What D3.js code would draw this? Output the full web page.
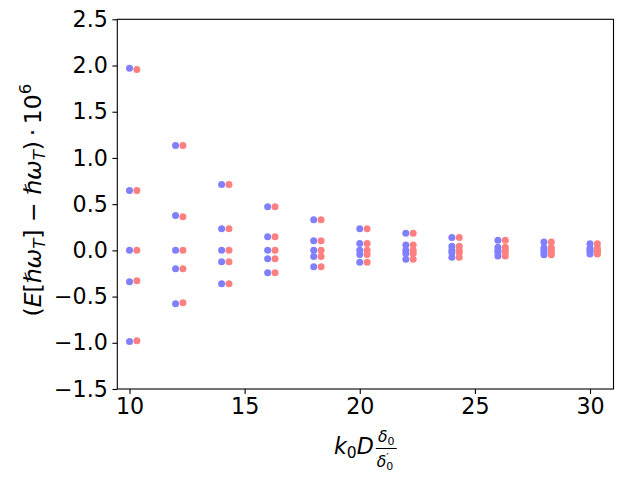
<!DOCTYPE html>
<html>
<head>
<meta charset="utf-8">
<script src="https://cdn.jsdelivr.net/npm/d3@7"></script>
<style>
  body { margin: 0; background: #fff; }
  text { font-family: "DejaVu Sans", sans-serif; fill: #000; }
</style>
</head>
<body>
<div id="chart"></div>
<script>
// groups on the x axis
var blueK = [10, 12, 14, 16, 18, 20, 22, 24, 26, 28, 30];
var redK = [10.32, 12.32, 14.32, 16.32, 18.32, 20.32, 22.32, 24.32, 26.32, 28.32, 30.32];

// five values per group (x 10^-6)
var blueValues = [
  [1.970, 0.647, 0, -0.339, -0.986],
  [1.134, 0.376, 0, -0.198, -0.578],
  [0.712, 0.235, 0, -0.123, -0.361],
  [0.473, 0.148, 0, -0.090, -0.242],
  [0.332, 0.105, 0, -0.066, -0.177],
  [0.235, 0.073, 0, -0.045, -0.128],
  [0.186, 0.058, 0, -0.035, -0.095],
  [0.140, 0.045, 0, -0.027, -0.075],
  [0.110, 0.035, 0, -0.021, -0.060],
  [0.090, 0.028, 0, -0.017, -0.048],
  [0.072, 0.023, 0, -0.014, -0.040]
];
var redValues = [
  [1.958, 0.647, 0, -0.328, -0.979],
  [1.134, 0.365, 0, -0.198, -0.567],
  [0.712, 0.235, 0, -0.123, -0.361],
  [0.473, 0.148, 0, -0.090, -0.242],
  [0.332, 0.105, 0, -0.066, -0.177],
  [0.235, 0.073, 0, -0.045, -0.128],
  [0.186, 0.058, 0, -0.035, -0.095],
  [0.140, 0.045, 0, -0.027, -0.075],
  [0.110, 0.035, 0, -0.021, -0.060],
  [0.090, 0.028, 0, -0.017, -0.048],
  [0.072, 0.023, 0, -0.014, -0.040]
];

var xTicks = [10, 15, 20, 25, 30];
var yTicks = [-1.5, -1.0, -0.5, 0.0, 0.5, 1.0, 1.5, 2.0, 2.5];

var W = 626, H = 485;
var margin = {top: 19.3, right: 12.5, bottom: 96, left: 117.3},
  width = W - margin.left - margin.right,
  height = H - margin.top - margin.bottom;

var svg = d3.select("#chart")
  .append("svg")
  .attr("width", W)
  .attr("height", H);

var g = svg.append("g")
  .attr("transform", "translate(" + margin.left + "," + margin.top + ")");

var x = d3.scaleLinear().domain([9.47, 31.02]).range([0, width]);
var y = d3.scaleLinear().domain([-1.5, 2.5]).range([height, 0]);

// flatten the groups into points
function toPoints(ks, vals) {
  var pts = [];
  ks.forEach(function(k, i) {
    vals[i].forEach(function(v) { pts.push({k: k, v: v}); });
  });
  return pts;
}

/****** POINTS ******/
g.append("g")
  .selectAll("circle")
  .data(toPoints(blueK, blueValues))
  .enter()
  .append("circle")
    .attr("cx", function(d) { return x(d.k); })
    .attr("cy", function(d) { return y(d.v); })
    .attr("r", 3.5)
    .style("fill", "#8080ff");

g.append("g")
  .selectAll("circle")
  .data(toPoints(redK, redValues))
  .enter()
  .append("circle")
    .attr("cx", function(d) { return x(d.k); })
    .attr("cy", function(d) { return y(d.v); })
    .attr("r", 3.5)
    .style("fill", "#ff8080");

/****** AXES ******/
var xAxis = g.append("g")
  .attr("transform", "translate(0," + height + ")")
  .call(d3.axisBottom(x).tickValues(xTicks).tickSize(4.9).tickPadding(4.5).tickFormat(d3.format("d")));

var yAxis = g.append("g")
  .call(d3.axisLeft(y).tickValues(yTicks).tickSize(4.9).tickPadding(4.5)
    .tickFormat(function(d) { return d3.format(".1f")(d).replace("-", "\u2212"); }));

[xAxis, yAxis].forEach(function(a) {
  a.select(".domain").remove();
  a.selectAll("line").style("stroke", "#000").style("stroke-width", 1.1);
  a.selectAll("text").style("font-size", "22.2px").style("font-family", "'DejaVu Sans'");
});

// frame
g.append("rect")
  .attr("width", width)
  .attr("height", height)
  .style("fill", "none")
  .style("stroke", "#000")
  .style("stroke-width", 1.1);

/****** Y LABEL ******/
var yl = svg.append("text")
  .attr("transform", "translate(41," + (margin.top + height / 2 - 4) + ") rotate(-90)")
  .attr("text-anchor", "middle")
  .style("font-size", "23.5px");
yl.append("tspan").text("(");
yl.append("tspan").style("font-style", "italic").text("E");
yl.append("tspan").text("[");
yl.append("tspan").style("font-style", "italic").text("\u210Fω");
yl.append("tspan").style("font-style", "italic").style("font-size", "16.5px").attr("dy", 4).text("T");
yl.append("tspan").attr("dy", -4).text("] \u2212 ");
yl.append("tspan").style("font-style", "italic").text("\u210Fω");
yl.append("tspan").style("font-style", "italic").style("font-size", "16.5px").attr("dy", 4).text("T");
yl.append("tspan").attr("dy", -4).text(")\u2009·\u200910");
yl.append("tspan").style("font-size", "16.5px").attr("dy", -10).text("6");

/****** X LABEL ******/
var xl = svg.append("g");
var base = 453.5;
var main = xl.append("text")
  .attr("y", base)
  .style("font-size", "22.2px");
main.append("tspan").style("font-style", "italic").text("k");
main.append("tspan").style("font-size", "15.5px").attr("dy", 4).text("0");
main.append("tspan").style("font-style", "italic").attr("dy", -4).text("D");
var mainW = main.node().getComputedTextLength();

var fracX = mainW + 2;
// numerator: delta_0
var num = xl.append("text")
  .attr("y", base - 12)
  .style("font-size", "15.5px");
num.append("tspan").style("font-style", "italic").text("δ");
num.append("tspan").style("font-size", "11px").attr("dy", 3).text("0");
// denominator: delta'_0 (prime above, 0 below, in one text)
var den = xl.append("text")
  .attr("y", base + 13)
  .style("font-size", "15.5px");
den.append("tspan").style("font-style", "italic").text("δ");
var prime = den.append("tspan").style("font-size", "11px").attr("dy", -6).text("\u2032");
var primeW = prime.node().getComputedTextLength();
den.append("tspan").style("font-size", "11px").attr("dx", -primeW).attr("dy", 9).text("0");
var denW = den.node().getComputedTextLength();
var fracW = Math.max(num.node().getComputedTextLength(), denW) + 2;
num.attr("x", fracX + 1 + (fracW - 2 - num.node().getComputedTextLength()) / 2);
den.attr("x", fracX + 1 + (fracW - 2 - denW) / 2);
xl.append("line")
  .attr("x1", fracX).attr("x2", fracX + fracW)
  .attr("y1", base - 5).attr("y2", base - 5)
  .style("stroke", "#000").style("stroke-width", 1);

var totalW = fracX + fracW;
xl.attr("transform", "translate(" + (margin.left + width / 2 - totalW / 2) + ",0)");
</script>
</body>
</html>
